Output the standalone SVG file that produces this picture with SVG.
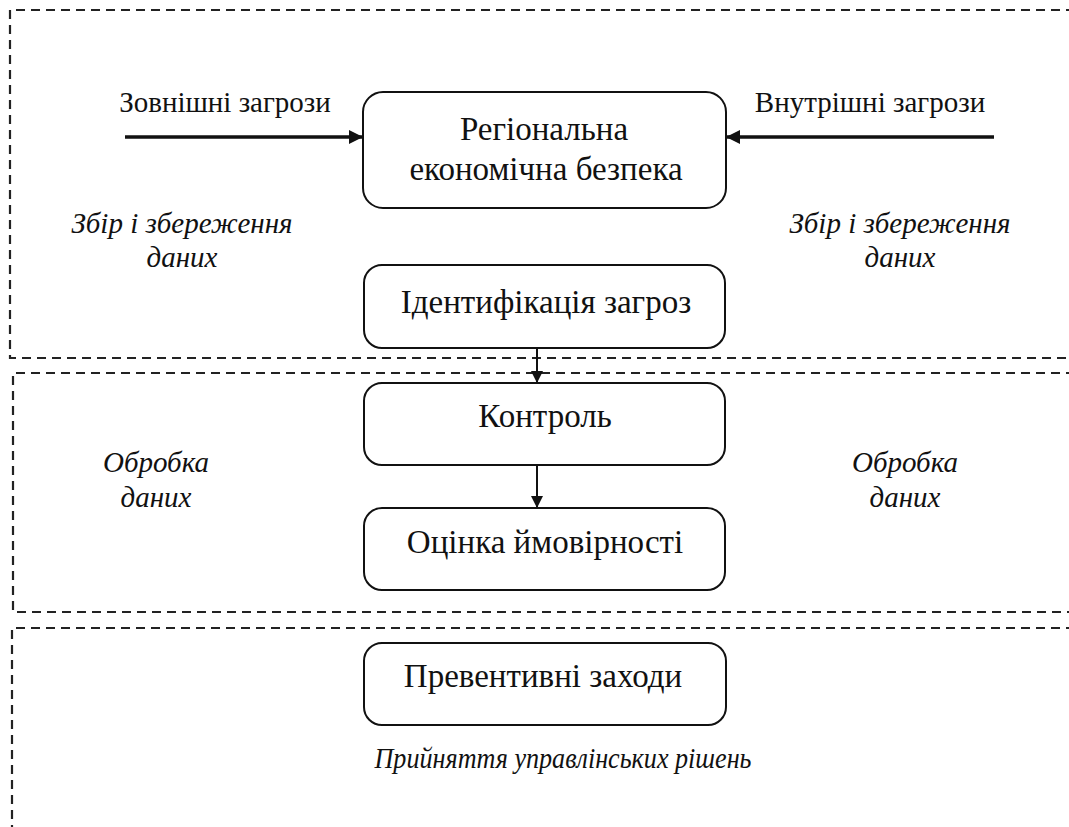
<svg xmlns="http://www.w3.org/2000/svg" width="1069" height="827" viewBox="0 0 1069 827">
<style>
.sec{fill:none;stroke:#222;stroke-width:2.2;stroke-dasharray:9 6}
.box{fill:#fff;stroke:#111;stroke-width:2}
.t{font-size:33px;fill:#111;text-anchor:middle}
.lab{font-size:29px;fill:#111;text-anchor:middle}
.it{font-style:italic;font-size:29px;fill:#111;text-anchor:middle}
.ln{stroke:#111;fill:none}
</style>
<defs>
<marker id="ahb" viewBox="0 0 10 10" refX="10" refY="5" markerWidth="16" markerHeight="14" markerUnits="userSpaceOnUse" orient="auto"><path d="M0,0 L10,5 L0,10 z" fill="#111"/></marker>
<marker id="ahs" viewBox="0 0 10 10" refX="10" refY="5" markerWidth="13" markerHeight="12" markerUnits="userSpaceOnUse" orient="auto"><path d="M0,0 L10,5 L0,10 z" fill="#111"/></marker>
</defs>
<g id="sections">
<path class="sec" d="M1075,10 H10 V358 H1075" stroke-width="1.6"/>
<path class="sec" d="M1075,373 H13 V612 H1075"/>
<path class="sec" d="M1075,628 H12 V835"/>
</g>
<g id="section-labels" font-family="Liberation Serif">
<text class="it" x="182" y="233">Збір і збереження</text>
<text class="it" x="182" y="267">даних</text>
<text class="it" x="900" y="233">Збір і збереження</text>
<text class="it" x="900" y="267">даних</text>
<text class="it" x="156" y="472">Обробка</text>
<text class="it" x="156" y="507">даних</text>
<text class="it" x="905" y="472">Обробка</text>
<text class="it" x="905" y="507">даних</text>
<text class="it" x="563" y="768" textLength="377" lengthAdjust="spacingAndGlyphs">Прийняття управлінських рішень</text>
</g>
<g id="connectors" font-family="Liberation Serif">
<line class="ln" x1="125" y1="137" x2="363" y2="137" stroke-width="3.5" marker-end="url(#ahb)"/>
<line class="ln" x1="994" y1="137" x2="726" y2="137" stroke-width="3.5" marker-end="url(#ahb)"/>
<line class="ln" x1="537" y1="348" x2="537" y2="383" stroke-width="2" marker-end="url(#ahs)"/>
<line class="ln" x1="537" y1="465" x2="537" y2="508" stroke-width="2" marker-end="url(#ahs)"/>
<text class="lab" x="225" y="112">Зовнішні загрози</text>
<text class="lab" x="870" y="112">Внутрішні загрози</text>
</g>
<g id="node-security" font-family="Liberation Serif">
<rect class="box" x="363" y="92" width="363" height="116" rx="20"/>
<text class="t" x="544" y="140">Регіональна</text>
<text class="t" x="546" y="180">економічна безпека</text>
</g>
<g id="node-identification" font-family="Liberation Serif">
<rect class="box" x="364" y="265" width="361" height="83" rx="18"/>
<text class="t" x="546" y="313">Ідентифікація загроз</text>
</g>
<g id="node-control" font-family="Liberation Serif">
<rect class="box" x="364" y="383" width="361" height="82" rx="18"/>
<text class="t" x="545" y="427">Контроль</text>
</g>
<g id="node-probability" font-family="Liberation Serif">
<rect class="box" x="364" y="508" width="361" height="82" rx="18"/>
<text class="t" x="545" y="553">Оцінка ймовірності</text>
</g>
<g id="node-preventive" font-family="Liberation Serif">
<rect class="box" x="364" y="643" width="362" height="82" rx="18"/>
<text class="t" x="543" y="687">Превентивні заходи</text>
</g>
</svg>
